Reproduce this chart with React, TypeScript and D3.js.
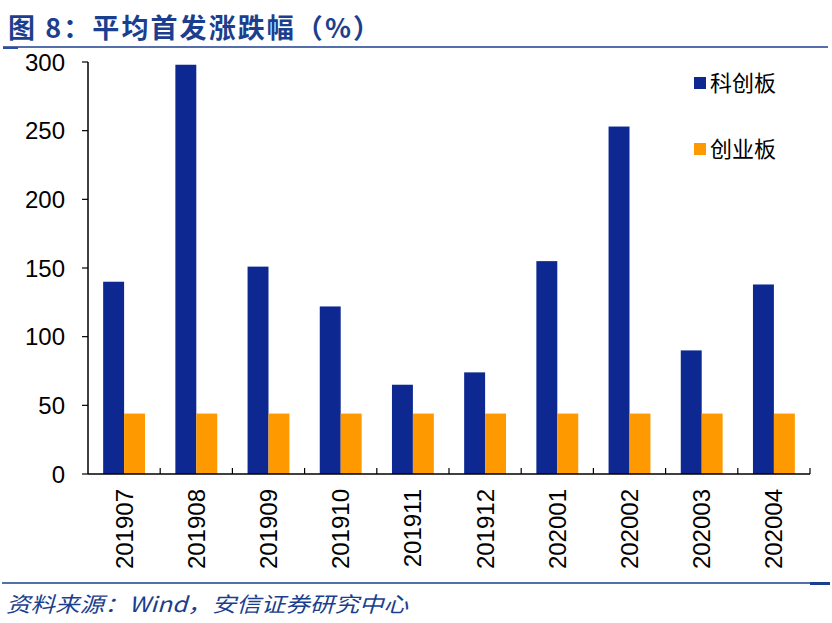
import * as d3 from "d3";
import React from "react";

const months = ["201907", "201908", "201909", "201910", "201911", "201912", "202001", "202002", "202003", "202004"];
const kcb = [140, 298, 151, 122, 65, 74, 155, 253, 90, 138];
const cyb = [44, 44, 44, 44, 44, 44, 44, 44, 44, 44];
const yTicks = [0, 50, 100, 150, 200, 250, 300];
const seriesNames = ["科创板", "创业板"];
const seriesColors = ["#0d2890", "#ff9900"];

const width = 832;
const height = 623;
const marginLeft = 88;
const plotRight = 810;
const plotTop = 62;
const plotBottom = 474;
const titleBlue = "#1b3f8e";

function App() {
  const svgRef = React.useRef<SVGSVGElement>(null);

  React.useEffect(() => {
    const svg = d3.select(svgRef.current);
    svg.selectAll("*").remove();

    const x = d3.scaleBand().domain(months).range([marginLeft, plotRight]).paddingInner(0.42).paddingOuter(0.21);
    const step = (plotRight - marginLeft) / months.length;
    const sub = d3.scaleBand().domain(seriesNames).range([0, x.bandwidth()]);
    const y = d3.scaleLinear().domain([0, 300]).range([plotBottom, plotTop]);

    // title
    svg
      .append("text")
      .attr("x", 8)
      .attr("y", 38)
      .attr("font-family", "'Noto Sans CJK SC', sans-serif")
      .attr("font-weight", "bold")
      .attr("font-size", 27)
      .attr("fill", titleBlue)
      .attr("textLength", 372)
      .attr("lengthAdjust", "spacing")
      .text("图 8：平均首发涨跌幅（%）");
    svg.append("line").attr("x1", 3).attr("x2", 828).attr("y1", 47).attr("y2", 47).attr("stroke", titleBlue).attr("stroke-width", 1.5);
    svg.append("rect").attr("x", 3).attr("y", 47).attr("width", 15).attr("height", 2).attr("fill", "#2a4fa8");

    // bars
    const series = [kcb, cyb];
    series.forEach((vals, si) => {
      svg
        .append("g")
        .selectAll("rect")
        .data(vals)
        .join("rect")
        .attr("x", (_, i) => (x(months[i]) as number) + (sub(seriesNames[si]) as number))
        .attr("width", sub.bandwidth())
        .attr("y", (d) => y(d))
        .attr("height", (d) => y(0) - y(d))
        .attr("fill", seriesColors[si]);
    });

    // y axis
    const yAxis = svg.append("g").attr("transform", `translate(${marginLeft},0)`);
    yAxis.append("line").attr("x1", 0).attr("x2", 0).attr("y1", plotTop).attr("y2", plotBottom).attr("stroke", "#000").attr("stroke-width", 1.5);
    yTicks.forEach((t) => {
      yAxis.append("line").attr("x1", -6).attr("x2", 0).attr("y1", y(t)).attr("y2", y(t)).attr("stroke", "#000").attr("stroke-width", 1.2);
      yAxis
        .append("text")
        .attr("x", -23)
        .attr("y", y(t))
        .attr("dy", "0.36em")
        .attr("text-anchor", "end")
        .attr("font-family", "Arial, 'Liberation Sans', sans-serif")
        .attr("font-size", 24)
        .attr("fill", "#000")
        .text(t);
    });

    // x axis
    const xAxis = svg.append("g");
    xAxis.append("line").attr("x1", marginLeft).attr("x2", plotRight).attr("y1", plotBottom).attr("y2", plotBottom).attr("stroke", "#000").attr("stroke-width", 1.5);
    months.forEach((m, i) => {
      const bx = marginLeft + step * (i + 1);
      xAxis.append("line").attr("x1", bx).attr("x2", bx).attr("y1", plotBottom).attr("y2", plotBottom - 6).attr("stroke", "#000").attr("stroke-width", 1.2);
      const cx = (x(m) as number) + x.bandwidth() / 2;
      xAxis
        .append("text")
        .attr("transform", `translate(${cx + 8.5},489) rotate(-90)`)
        .attr("text-anchor", "end")
        .attr("font-family", "Arial, 'Liberation Sans', sans-serif")
        .attr("font-size", 24)
        .attr("fill", "#000")
        .text(m);
    });

    // legend
    const legendY = [83, 149];
    seriesNames.forEach((name, i) => {
      svg.append("rect").attr("x", 694).attr("y", legendY[i] - 6).attr("width", 12).attr("height", 12).attr("fill", seriesColors[i]);
      svg
        .append("text")
        .attr("x", 710)
        .attr("y", legendY[i])
        .attr("dy", "0.36em")
        .attr("font-family", "'Noto Sans CJK SC', sans-serif")
        .attr("font-size", 22)
        .attr("fill", "#000")
        .text(name);
    });

    // footer
    svg.append("line").attr("x1", 2).attr("x2", 830).attr("y1", 583).attr("y2", 583).attr("stroke", titleBlue).attr("stroke-width", 1.5);
    svg.append("rect").attr("x", 810).attr("y", 582).attr("width", 20).attr("height", 3).attr("fill", "#1b3f8e");
    svg
      .append("text")
      .attr("x", 6)
      .attr("y", 612)
      .attr("font-family", "'Noto Sans CJK SC', sans-serif")
      .attr("font-style", "italic")
      .attr("font-size", 21)
      .attr("fill", titleBlue)
      .attr("textLength", 402)
      .attr("lengthAdjust", "spacingAndGlyphs")
      .text("资料来源：Wind，安信证券研究中心");
  }, []);

  return (
    <svg
      ref={svgRef}
      width={width}
      height={height}
      style={{ position: "absolute", left: 0, top: 0, background: "#fff" }}
    />
  );
}

export default App;
